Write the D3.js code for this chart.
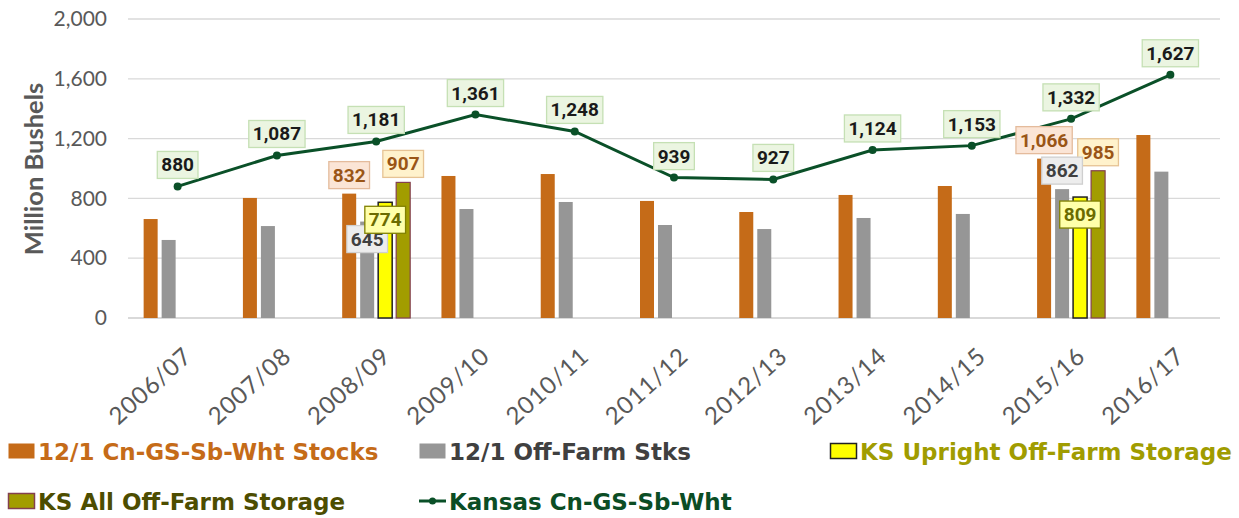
<!DOCTYPE html>
<html>
<head>
<meta charset="utf-8">
<script src="https://cdn.jsdelivr.net/npm/d3@7.9.0/dist/d3.min.js"></script>
<style>
  body { margin: 0; background: #fff; }
  svg { display: block; }
</style>
</head>
<body>
<div id="chart"></div>
<script>
// ---------------------- Data ----------------------
const years = ['2006/07', '2007/08', '2008/09', '2009/10', '2010/11', '2011/12',
  '2012/13', '2013/14', '2014/15', '2015/16', '2016/17'];
const stocks = [662, 803, 832, 950, 963, 783, 709, 823, 883, 1066, 1224];
const offFarm = [522, 615, 645, 729, 776, 622, 595, 669, 696, 862, 979];
const upright = [null, null, 774, null, null, null, null, null, null, 809, null];
const allStorage = [null, null, 907, null, null, null, null, null, null, 985, null];
const kansas = [880, 1087, 1181, 1361, 1248, 939, 927, 1124, 1153, 1332, 1627];
const yTicks = [0, 400, 800, 1200, 1600, 2000];
const labelledYears = ['2008/09', '2015/16'];

const series = [
  { key: 'stocks', name: '12/1 Cn-GS-Sb-Wht Stocks', values: stocks, fill: '#c56b18', stroke: 'none',
    text: '#c56b18', box: { fill: '#fbe5d6', stroke: '#e4bb9c', text: '#9a5516' } },
  { key: 'offFarm', name: '12/1 Off-Farm Stks', values: offFarm, fill: '#969696', stroke: 'none',
    text: '#404040', box: { fill: '#ededed', stroke: '#cfcfcf', text: '#404040' } },
  { key: 'upright', name: 'KS Upright Off-Farm Storage', values: upright, fill: '#ffff00', stroke: '#222',
    text: '#a09c00', box: { fill: '#ffffaa', stroke: '#808000', text: '#6b6b00' } },
  { key: 'all', name: 'KS All Off-Farm Storage', values: allStorage, fill: '#a29d00', stroke: '#84404f',
    text: '#4d4d00', box: { fill: '#fff2cc', stroke: '#e6c394', text: '#9a5516' } }
];
// where each bar label sits: above the bar or just inside its top
const labelPlace = {
  '2008/09': { stocks: 'above', offFarm: 'inside', upright: 'inside', all: 'above' },
  '2015/16': { stocks: 'above', offFarm: 'above', upright: 'inside', all: 'above' }
};

// ---------------------- Layout ----------------------
const width = 1239, height = 518;
const plot = { left: 128, right: 1220, top: 19, bottom: 318 };
const fmt = d3.format(',');

const svg = d3.select('#chart').append('svg')
  .attr('width', width).attr('height', height);

const x = d3.scaleBand().domain(years).range([plot.left, plot.right]);
const y = d3.scaleLinear().domain([0, 2000]).range([plot.bottom, plot.top]);
const xSub = d3.scaleBand().domain(series.map(s => s.key)).range([-34, 34]).paddingInner(0.222);
const cx = yr => x(yr) + x.bandwidth() / 2;

// gridlines
svg.append('g').selectAll('line')
  .data(yTicks)
  .join('line')
  .attr('x1', plot.left).attr('x2', plot.right)
  .attr('y1', d => y(d)).attr('y2', d => y(d))
  .attr('stroke', '#d9d9d9')
  .attr('stroke-width', d => d === 0 ? 2 : 1.3);

// y axis labels
const yAxis = svg.append('g')
  .attr('transform', `translate(${plot.left - 21},0)`)
  .call(d3.axisLeft(y).tickValues(yTicks).tickSize(0).tickPadding(0).tickFormat(fmt));
yAxis.select('.domain').remove();
yAxis.selectAll('text')
  .attr('font-family', 'Lato, sans-serif')
  .attr('font-size', 21)
  .attr('fill', '#595959');

svg.append('text')
  .attr('transform', 'translate(43,169) rotate(-90)')
  .attr('text-anchor', 'middle')
  .attr('font-family', 'Lato, sans-serif')
  .attr('font-weight', 'bold')
  .attr('font-size', 25.5)
  .attr('fill', '#595959')
  .text('Million Bushels');

// x axis labels
svg.append('g').selectAll('text')
  .data(years)
  .join('text')
  .attr('transform', d => `translate(${cx(d) + 3},${plot.bottom + 26}) rotate(-42)`)
  .attr('text-anchor', 'end')
  .attr('dominant-baseline', 'hanging')
  .attr('font-family', 'Lato, sans-serif')
  .attr('font-size', 24)
  .attr('letter-spacing', 1)
  .attr('fill', '#595959')
  .text(d => d);

// bars
const barData = series.flatMap(s => years.map((yr, i) => ({ s, yr, v: s.values[i] })))
  .filter(d => d.v != null);

svg.append('g').selectAll('rect')
  .data(barData)
  .join('rect')
  .attr('x', d => cx(d.yr) + xSub(d.s.key))
  .attr('width', xSub.bandwidth())
  .attr('y', d => y(d.v))
  .attr('height', d => y(0) - y(d.v))
  .attr('fill', d => d.s.fill)
  .attr('stroke', d => d.s.stroke)
  .attr('stroke-width', d => d.s.key === 'upright' ? 1.5 : 1.2);

// line
const lineData = years.map((yr, i) => ({ yr, v: kansas[i] }));
svg.append('path')
  .datum(lineData)
  .attr('fill', 'none')
  .attr('stroke', '#0a5028')
  .attr('stroke-width', 3)
  .attr('d', d3.line().x(d => cx(d.yr)).y(d => y(d.v)));

svg.append('g').selectAll('circle')
  .data(lineData)
  .join('circle')
  .attr('cx', d => cx(d.yr))
  .attr('cy', d => y(d.v))
  .attr('r', 4)
  .attr('fill', '#0a5028');

// ---------------------- Data labels ----------------------
function boxLabel(g, px, top, text, style) {
  const t = g.append('text')
    .attr('x', px).attr('y', top + 20)
    .attr('text-anchor', 'middle')
    .attr('font-family', 'Roboto, sans-serif')
    .attr('font-weight', 'bold')
    .attr('font-size', 19)
    .attr('fill', style.text)
    .text(text);
  const w = t.node().getComputedTextLength() + 8;
  g.insert('rect', 'text')
    .attr('x', px - w / 2).attr('y', top)
    .attr('width', w).attr('height', 27)
    .attr('fill', style.fill)
    .attr('stroke', style.stroke)
    .attr('stroke-width', 1.3);
}

const labels = svg.append('g');
const lineBox = { fill: '#ebf5e1', stroke: '#c5e0b4', text: '#1a1a1a' };
lineData.forEach(d => {
  boxLabel(labels.append('g'), cx(d.yr), y(d.v) - 35, fmt(d.v), lineBox);
});

// draw order: stocks and all-storage labels first, then the inside ones on top
['stocks', 'all', 'offFarm', 'upright'].forEach(key => {
  const s = series.find(e => e.key === key);
  labelledYears.forEach(yr => {
    const v = s.values[years.indexOf(yr)];
    const px = cx(yr) + xSub(key) + xSub.bandwidth() / 2;
    const top = labelPlace[yr][key] === 'above' ? y(v) - 32 : y(v) + 4;
    boxLabel(labels.append('g'), px, top, fmt(v), s.box);
  });
});

// ---------------------- Legend ----------------------
const legendItems = [
  { s: series[0], x: 8, y: 460 },
  { s: series[1], x: 419, y: 460 },
  { s: series[2], x: 830, y: 460 },
  { s: series[3], x: 8, y: 510 },
  { s: { name: 'Kansas Cn-GS-Sb-Wht', line: true, text: '#0b4d24' }, x: 419, y: 510 }
];
const legend = svg.append('g');
legendItems.forEach(item => {
  const g = legend.append('g').attr('transform', `translate(${item.x},${item.y})`);
  if (item.s.line) {
    g.append('line').attr('x1', 0).attr('x2', 27).attr('y1', -9).attr('y2', -9)
      .attr('stroke', '#0a5028').attr('stroke-width', 3);
    g.append('circle').attr('cx', 13.5).attr('cy', -9).attr('r', 3.5).attr('fill', '#0a5028');
  } else {
    g.append('rect').attr('x', 0.5).attr('y', -16.5).attr('width', 26).attr('height', 15)
      .attr('fill', item.s.fill)
      .attr('stroke', item.s.stroke === 'none' ? 'none' : item.s.stroke)
      .attr('stroke-width', 1.5);
  }
  g.append('text')
    .attr('x', 30).attr('y', 0)
    .attr('font-family', '"DejaVu Sans", sans-serif')
    .attr('font-weight', 'bold')
    .attr('font-size', 23)
    .attr('fill', item.s.text)
    .text(item.s.name);
});
</script>
</body>
</html>
